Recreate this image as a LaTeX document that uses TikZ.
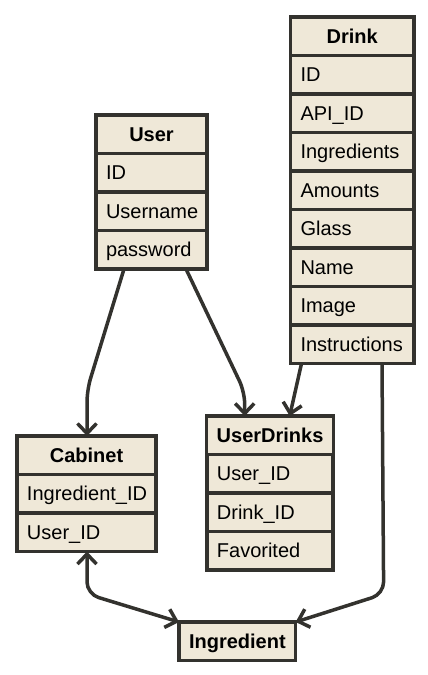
\documentclass[tikz,border=0pt]{standalone}
\usepackage{fontspec}
\setmainfont{Liberation Sans}
\usetikzlibrary{positioning,calc,arrows.meta}

\definecolor{boxfill}{RGB}{239,232,216}
\definecolor{boxline}{RGB}{51,50,46}

\begin{document}
\begin{tikzpicture}[x=1pt,y=-1pt,
		box/.style={draw=boxline,fill=boxfill,line width=3.5pt,outer sep=0pt,minimum height=38.5pt,
			inner xsep=10pt,inner ysep=0pt,text height=16pt,text depth=1.7pt,font=\fontsize{20}{24}\selectfont},
		head/.style={box,font=\fontsize{20}{24}\selectfont\bfseries},
		field/.style={box,text width=#1,align=left},
		rel/.style={draw=boxline,line width=3.5pt,rounded corners=12pt,-{Straight Barb[length=10pt,width=19pt]}}]
		
		\useasboundingbox (0,0) rectangle (428,675);
		
		% Drink
		\node (drink0) at (290.5,17) [head,minimum width=123.5pt,anchor=north west] {Drink};
		\foreach \f [count=\i, remember=\i as \j (initially 0)] in {ID,API\_ID,Ingredients,Amounts,Glass,Name,Image,Instructions} {
			\node (drink\i) [field=103.5pt,below=0pt of drink\j] {\f};
		}
		
		% User
		\node (user0) at (96,115) [head,minimum width=111pt,anchor=north west] {User};
		\foreach \f [count=\i, remember=\i as \j (initially 0)] in {ID,Username,password} {
			\node (user\i) [field=91pt,below=0pt of user\j] {\f};
		}
		
		% Cabinet
		\node (cabinet0) at (17,436) [head,minimum width=139pt,anchor=north west] {Cabinet};
		\foreach \f [count=\i, remember=\i as \j (initially 0)] in {Ingredient\_ID,User\_ID} {
			\node (cabinet\i) [field=119pt,below=0pt of cabinet\j] {\f};
		}
		
		% UserDrinks
		\node (userdrinks0) at (206.7,416) [head,minimum width=126.3pt,anchor=north west] {UserDrinks};
		\foreach \f [count=\i, remember=\i as \j (initially 0)] in {User\_ID,Drink\_ID,Favorited} {
			\node (userdrinks\i) [field=106.3pt,below=0pt of userdrinks\j] {\f};
		}
		
		\node (ingredient) at (179,622) [head,minimum width=115pt,anchor=north west] {Ingredient};
		
		\draw[rel] ($(user3.south west)+(28,0)$) -- ($(cabinet0.north west)+(70,-46)$) -- ($(cabinet0.north west)+(70,0)$);
		\draw[rel] ($(user3.south west)+(90,0)$) -- ($(userdrinks0.north west)+(38,-24)$) -- ($(userdrinks0.north west)+(38,0)$);
		\draw[rel] ($(drink8.south west)+(11,0)$) -- ($(userdrinks0.north west)+(83,0)$);
		\draw[rel] ($(drink8.south west)+(91.5,0)$) -- ($(ingredient.north east)+(88,-28)$) -- (ingredient.north east);
		\draw[rel,{Straight Barb[length=10pt,width=19pt]}-{Straight Barb[length=10pt,width=19pt]}] ($(cabinet2.south west)+(70,0)$) -- ($(ingredient.north west)+(-92,-28)$) -- (ingredient.north west);
		
	\end{tikzpicture}
\end{document}
